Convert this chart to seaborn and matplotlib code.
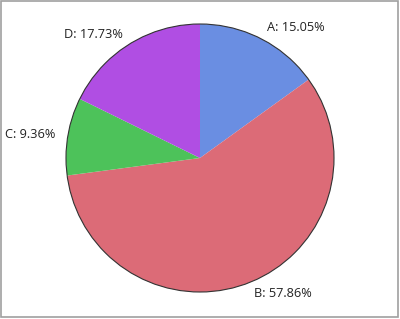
import matplotlib
matplotlib.use("Agg")
import matplotlib.pyplot as plt
import seaborn as sns
from matplotlib.patches import Circle, Rectangle

categories = ["A", "B", "C", "D"]
values = [15.05, 57.86, 9.36, 17.73]
colors = ["#6a8ee2", "#dc6b77", "#4dc25a", "#b04ee3"]
labels = [f"{c}: {v:.2f}%" for c, v in zip(categories, values)]

sns.set_theme(style="white")
plt.rcParams["font.family"] = ["Open Sans", "DejaVu Sans"]

W, H = 400, 319
fig = plt.figure(figsize=(W / 100, H / 100), dpi=100)
ax = fig.add_axes([0, 0, 1, 1])
cx, cy, r = 200, 158, 134

ax.pie(values, labels=labels, colors=colors, startangle=90, counterclock=False,
       labeldistance=1.09, radius=1.0,
       wedgeprops=dict(linewidth=0, edgecolor="none"),
       textprops=dict(fontsize=9.2, color="#222222"))
ax.add_patch(Circle((0, 0), 1.0, fill=False, edgecolor="#333333", linewidth=0.8))
ax.set_xlim(-cx / r, (W - cx) / r)
ax.set_ylim(-(H - cy) / r, cy / r)
ax.set_aspect("auto")
ax.axis("off")

fig.patches.append(Rectangle((0.5 / W, 2.5 / H), (W - 3) / W, (H - 3) / H,
                             transform=fig.transFigure, fill=False,
                             edgecolor="#a0a0a0", linewidth=1.2))
fig.savefig("out.png", dpi=100, facecolor="white")
